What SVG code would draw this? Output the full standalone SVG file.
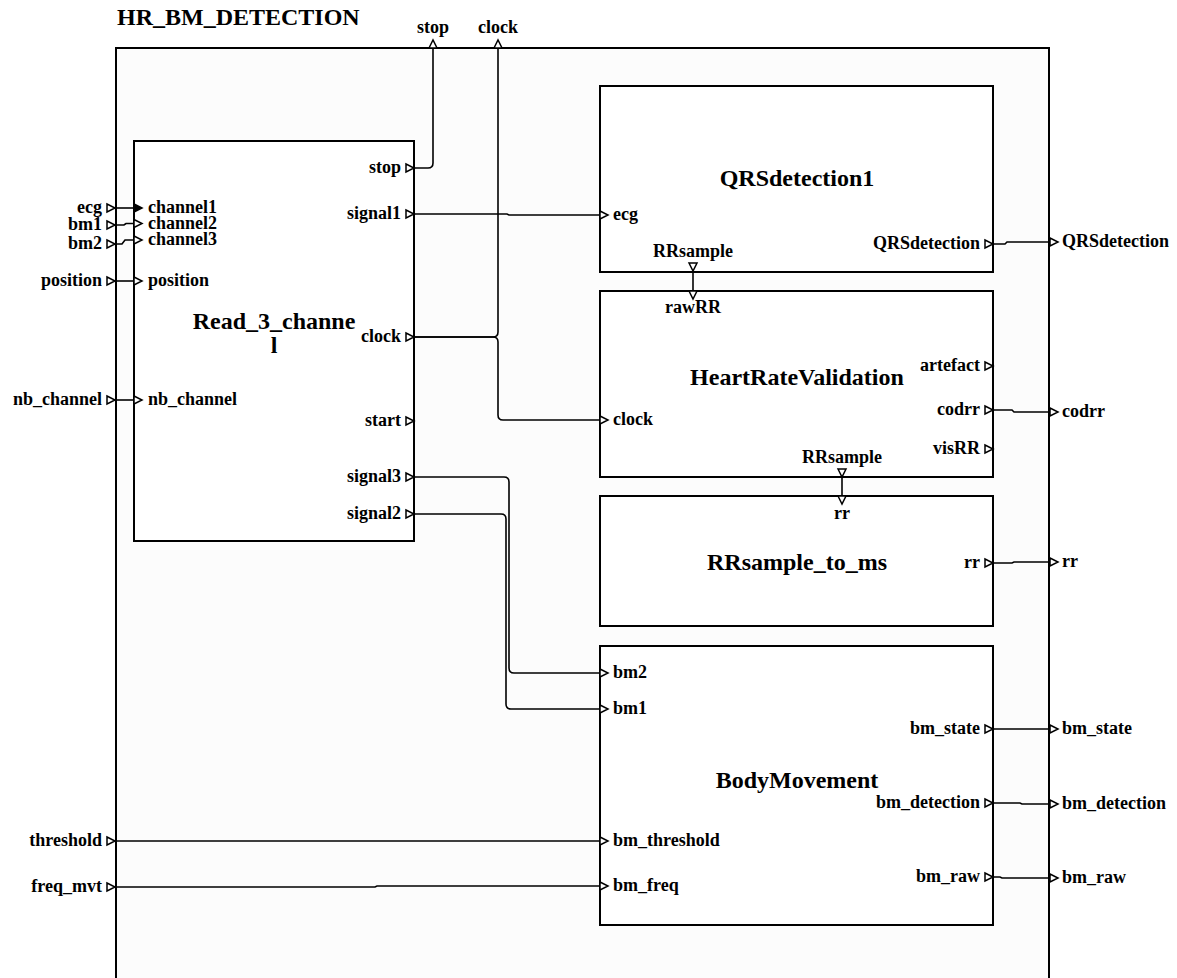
<svg xmlns="http://www.w3.org/2000/svg" width="1177" height="978" viewBox="0 0 1177 978">
<defs>
<style>
text{font-family:"Liberation Serif","Times New Roman",serif;font-weight:bold;fill:#000}
.pl{font-size:18px}
.ttl{font-size:24px;text-anchor:middle}
.e{text-anchor:end}
.m{text-anchor:middle}
.frame{fill:#fcfcfc;stroke:#000;stroke-width:2}
.blk{fill:#fff;stroke:#000;stroke-width:2}
.w{fill:none;stroke:#000;stroke-width:1.6}
.pt{fill:#fff;stroke:#000;stroke-width:1.5}
.ptf{fill:#000;stroke:#000;stroke-width:1.5}
</style>
</defs>
<rect width="1177" height="978" fill="#fff"/>
<g id="frame">
<rect class="frame" x="116" y="48" width="933" height="960"/>
<text x="117" y="25" style="font-size:24px">HR_BM_DETECTION</text>
<!-- left input ports -->
<path class="pt" d="M107 204 L115 208 L107 212 Z"/><text class="pl e" x="102" y="213">ecg</text>
<path class="pt" d="M107 221 L115 225 L107 229 Z"/><text class="pl e" x="102" y="230">bm1</text>
<path class="pt" d="M107 240 L115 244 L107 248 Z"/><text class="pl e" x="102" y="249">bm2</text>
<path class="pt" d="M107 277 L115 281 L107 285 Z"/><text class="pl e" x="102" y="286">position</text>
<path class="pt" d="M107 396 L115 400 L107 404 Z"/><text class="pl e" x="102" y="405">nb_channel</text>
<path class="pt" d="M107 837 L115 841 L107 845 Z"/><text class="pl e" x="102" y="846">threshold</text>
<path class="pt" d="M107 883 L115 887 L107 891 Z"/><text class="pl e" x="102" y="892">freq_mvt</text>
<!-- top output ports -->
<path class="pt" d="M429 48 L433 40 L437 48 Z"/><text class="pl m" x="433" y="33">stop</text>
<path class="pt" d="M494 48 L498 40 L502 48 Z"/><text class="pl m" x="498" y="33">clock</text>
<!-- right output ports -->
<path class="pt" d="M1050 238 L1058 242 L1050 246 Z"/><text class="pl" x="1062" y="247">QRSdetection</text>
<path class="pt" d="M1050 408 L1058 412 L1050 416 Z"/><text class="pl" x="1062" y="417">codrr</text>
<path class="pt" d="M1050 558 L1058 562 L1050 566 Z"/><text class="pl" x="1062" y="567">rr</text>
<path class="pt" d="M1050 725 L1058 729 L1050 733 Z"/><text class="pl" x="1062" y="734">bm_state</text>
<path class="pt" d="M1050 800 L1058 804 L1050 808 Z"/><text class="pl" x="1062" y="809">bm_detection</text>
<path class="pt" d="M1050 874 L1058 878 L1050 882 Z"/><text class="pl" x="1062" y="883">bm_raw</text>
</g>
<g id="connectors">
<path class="w" d="M115 208 H134"/>
<path class="w" d="M115 225 H124 L126 223.5 H134"/>
<path class="w" d="M115 244 H122 L125 240 H134"/>
<path class="w" d="M115 281 H134"/>
<path class="w" d="M115 400 H134"/>
<path class="w" d="M115 841 H600"/>
<path class="w" d="M115 887 H375 L377 886 H600"/>
<path class="w" d="M414 168 H428 Q433 168 433 163 V48"/>
<path class="w" d="M414 337 H493 Q498 337 498 332 V48"/>
<path class="w" d="M414 337 H493 Q498 337 498 342 V415 Q498 420 503 420 H600"/>
<path class="w" d="M414 214 H507 L509 215 H600"/>
<path class="w" d="M414 477 H504 Q509 477 509 482 V668 Q509 673 514 673 H600"/>
<path class="w" d="M414 514 H501 Q506 514 506 519 V704 Q506 709 511 709 H600"/>
<path class="w" d="M993 244 H1005 L1007 242 H1049"/>
<path class="w" d="M993 410 H1012 L1014 412 H1049"/>
<path class="w" d="M993 563 H1012 L1014 562 H1049"/>
<path class="w" d="M993 729 H1049"/>
<path class="w" d="M993 803 H1020 L1022 804 H1049"/>
<path class="w" d="M993 877 H1000 L1002 878 H1049"/>
<path class="w" d="M693 271 V291"/>
<path class="w" d="M842 477 V496"/>
</g>
<g id="read_3_channel">
<rect class="blk" x="134" y="141" width="280" height="400"/>
<text class="ttl" x="274" y="329">Read_3_channe</text>
<text class="ttl" x="274" y="353">l</text>
<path class="ptf" d="M134 204 L142 208 L134 212 Z"/><text class="pl" x="148" y="213">channel1</text>
<path class="pt" d="M134 219.5 L142 223.5 L134 227.5 Z"/><text class="pl" x="148" y="229">channel2</text>
<path class="pt" d="M134 236 L142 240 L134 244 Z"/><text class="pl" x="148" y="245">channel3</text>
<path class="pt" d="M134 277 L142 281 L134 285 Z"/><text class="pl" x="148" y="286">position</text>
<path class="pt" d="M134 396 L142 400 L134 404 Z"/><text class="pl" x="148" y="405">nb_channel</text>
<path class="pt" d="M406 164 L414 168 L406 172 Z"/><text class="pl e" x="401" y="173">stop</text>
<path class="pt" d="M406 210 L414 214 L406 218 Z"/><text class="pl e" x="401" y="219">signal1</text>
<path class="pt" d="M406 333 L414 337 L406 341 Z"/><text class="pl e" x="401" y="342">clock</text>
<path class="pt" d="M406 417 L414 421 L406 425 Z"/><text class="pl e" x="401" y="426">start</text>
<path class="pt" d="M406 473 L414 477 L406 481 Z"/><text class="pl e" x="401" y="482">signal3</text>
<path class="pt" d="M406 510 L414 514 L406 518 Z"/><text class="pl e" x="401" y="519">signal2</text>
</g>
<g id="qrsdetection1">
<rect class="blk" x="600" y="86" width="393" height="186"/>
<text class="ttl" x="797" y="186">QRSdetection1</text>
<path class="pt" d="M600 211 L608 215 L600 219 Z"/><text class="pl" x="613" y="220">ecg</text>
<path class="pt" d="M985 240 L993 244 L985 248 Z"/><text class="pl e" x="980" y="249">QRSdetection</text>
<path class="pt" d="M689 263 L693 271 L697 263 Z"/><text class="pl m" x="693" y="257">RRsample</text>
</g>
<g id="heartratevalidation">
<rect class="blk" x="600" y="291" width="393" height="186"/>
<text class="ttl" x="797" y="385">HeartRateValidation</text>
<path class="pt" d="M689 291 L693 299 L697 291 Z"/><text class="pl m" x="693" y="313">rawRR</text>
<path class="pt" d="M600 416 L608 420 L600 424 Z"/><text class="pl" x="613" y="425">clock</text>
<path class="pt" d="M985 362 L993 366 L985 370 Z"/><text class="pl e" x="980" y="371">artefact</text>
<path class="pt" d="M985 406 L993 410 L985 414 Z"/><text class="pl e" x="980" y="415">codrr</text>
<path class="pt" d="M985 445 L993 449 L985 453 Z"/><text class="pl e" x="980" y="454">visRR</text>
<path class="pt" d="M838 469 L842 477 L846 469 Z"/><text class="pl m" x="842" y="463">RRsample</text>
</g>
<g id="rrsample_to_ms">
<rect class="blk" x="600" y="496" width="393" height="130"/>
<text class="ttl" x="797" y="570">RRsample_to_ms</text>
<path class="pt" d="M838 496 L842 504 L846 496 Z"/><text class="pl m" x="842" y="519">rr</text>
<path class="pt" d="M985 559 L993 563 L985 567 Z"/><text class="pl e" x="980" y="568">rr</text>
</g>
<g id="bodymovement">
<rect class="blk" x="600" y="646" width="393" height="279"/>
<text class="ttl" x="797" y="788">BodyMovement</text>
<path class="pt" d="M600 669 L608 673 L600 677 Z"/><text class="pl" x="613" y="678">bm2</text>
<path class="pt" d="M600 705 L608 709 L600 713 Z"/><text class="pl" x="613" y="714">bm1</text>
<path class="pt" d="M600 837 L608 841 L600 845 Z"/><text class="pl" x="613" y="846">bm_threshold</text>
<path class="pt" d="M600 882 L608 886 L600 890 Z"/><text class="pl" x="613" y="891">bm_freq</text>
<path class="pt" d="M985 725 L993 729 L985 733 Z"/><text class="pl e" x="980" y="734">bm_state</text>
<path class="pt" d="M985 799 L993 803 L985 807 Z"/><text class="pl e" x="980" y="808">bm_detection</text>
<path class="pt" d="M985 873 L993 877 L985 881 Z"/><text class="pl e" x="980" y="882">bm_raw</text>
</g>
</svg>
